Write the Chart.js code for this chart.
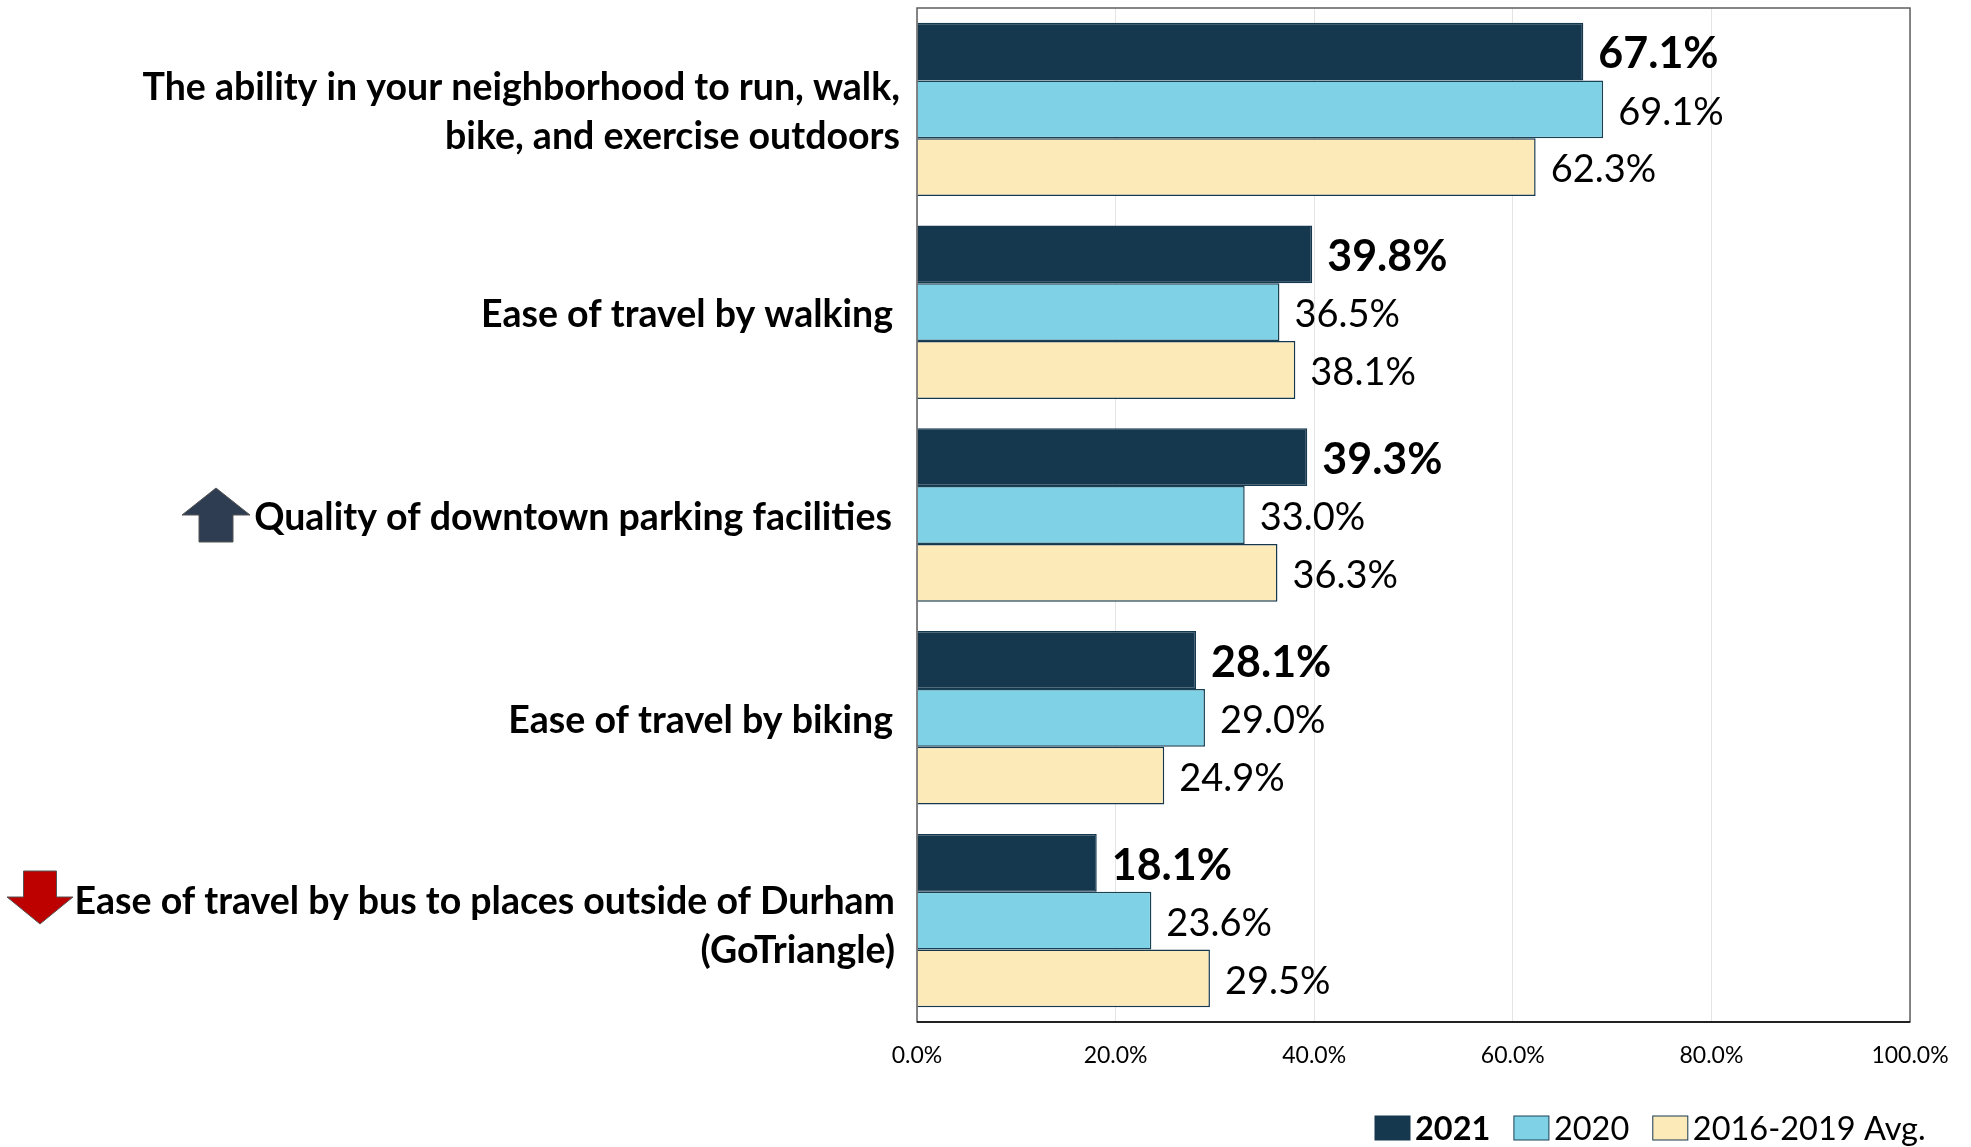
<!DOCTYPE html>
<html>
<head>
<meta charset="utf-8">
<style>
  html, body { margin: 0; padding: 0; background: #fff; }
  #wrap { width: 1971px; height: 1147px; }
</style>
<script src="https://cdn.jsdelivr.net/npm/chart.js@4"></script>
</head>
<body>
<div id="wrap"><canvas id="chart" width="1971" height="1147"></canvas></div>
<script>
const categories = [
  ['The ability in your neighborhood to run, walk,', 'bike, and exercise outdoors'],
  ['Ease of travel by walking'],
  ['Quality of downtown parking facilities'],
  ['Ease of travel by biking'],
  ['Ease of travel by bus to places outside of Durham', '(GoTriangle)']
];
const values2021 = [67.1, 39.8, 39.3, 28.1, 18.1];
const values2020 = [69.1, 36.5, 33.0, 29.0, 23.6];
const valuesAvg = [62.3, 38.1, 36.3, 24.9, 29.5];
const seriesNames = ['2021', '2020', '2016-2019 Avg.'];
const xTicks = [0, 20, 40, 60, 80, 100];

const FONT = 'Lato, "Open Sans", sans-serif';

function drawText(ctx, str, x, y, font, align) {
  ctx.font = font;
  ctx.fillStyle = '#000';
  ctx.textAlign = align;
  ctx.textBaseline = 'middle';
  ctx.fillText(str, x, y);
}

const labelRight = [900, 893, 892, 893, 895];

const extras = {
  id: 'extras',
  afterDatasetsDraw(chart) {
    const ctx = chart.ctx;
    const a = chart.chartArea;
    const yScale = chart.scales.y;

    // frame
    ctx.strokeStyle = '#5f5f5f';
    ctx.lineWidth = 1.5;
    ctx.strokeRect(a.left, a.top, a.right - a.left, a.bottom - a.top);
    ctx.strokeStyle = '#000';
    ctx.beginPath();
    ctx.moveTo(a.left, a.bottom);
    ctx.lineTo(a.right, a.bottom);
    ctx.stroke();

    // category labels
    categories.forEach((lines, i) => {
      const cy = yScale.getPixelForTick(i) + (i === 4 ? 6 : 3);
      lines.forEach((line, j) => {
        const y = cy + (j - (lines.length - 1) / 2) * 48.6;
        drawText(ctx, line, labelRight[i], y, 'bold 37.5px ' + FONT, 'right');
      });
    });

    // value labels
    chart.data.datasets.forEach((ds, d) => {
      const font = (d === 0 ? 'bold 43px ' : '38px ') + FONT;
      chart.getDatasetMeta(d).data.forEach((bar, i) => {
        drawText(ctx, ds.data[i].toFixed(1) + '%', bar.x + 15, bar.y + 3, font, 'left');
      });
    });

    // arrows
    arrow(ctx, 216, 488, 542, 34, 515, '#2f3d52');
    arrow(ctx, 40, 924, 871, 33, 897, '#bd0000');

    // legend
    let lx = 1375;
    const ly = 1128;
    chart.data.datasets.forEach((ds, d) => {
      ctx.fillStyle = ds.backgroundColor;
      ctx.strokeStyle = ds.borderColor;
      ctx.lineWidth = 1;
      ctx.fillRect(lx, ly - 12, 35, 24);
      ctx.strokeRect(lx, ly - 12, 35, 24);
      drawText(ctx, seriesNames[d], lx + 40, ly + 2, (d === 0 ? 'bold ' : '') + '32.5px ' + FONT, 'left');
      lx += 40 + ctx.measureText(seriesNames[d]).width + 23.5;
    });
  }
};

// tip is at y1, foot of the shaft at y2, head meets shaft at yh
function arrow(ctx, cx, y1, y2, w, yh, color) {
  const half = w / 2;
  const head = w;
  ctx.fillStyle = color;
  ctx.strokeStyle = '#555';
  ctx.lineWidth = 1;
  ctx.beginPath();
  ctx.moveTo(cx, y1);
  ctx.lineTo(cx + head, yh);
  ctx.lineTo(cx + half, yh);
  ctx.lineTo(cx + half, y2);
  ctx.lineTo(cx - half, y2);
  ctx.lineTo(cx - half, yh);
  ctx.lineTo(cx - head, yh);
  ctx.closePath();
  ctx.fill();
  ctx.stroke();
}

new Chart(document.getElementById('chart'), {
  type: 'bar',
  data: {
    labels: categories.map(c => c.join(' ')),
    datasets: [
      { label: seriesNames[0], data: values2021, backgroundColor: '#16384f', borderColor: '#16384f', borderWidth: 1.5 },
      { label: seriesNames[1], data: values2020, backgroundColor: '#7fd1e5', borderColor: '#1a4257', borderWidth: 1.5 },
      { label: seriesNames[2], data: valuesAvg, backgroundColor: '#fdeab9', borderColor: '#16384f', borderWidth: 1.5 }
    ]
  },
  options: {
    indexAxis: 'y',
    responsive: false,
    animation: false,
    layout: { padding: { top: 8, right: 61, left: 0, bottom: 0 } },
    plugins: { legend: { display: false }, tooltip: { enabled: false } },
    datasets: { bar: { categoryPercentage: 0.855, barPercentage: 1 } },
    scales: {
      x: {
        min: 0,
        max: 100,
        afterBuildTicks(axis) { axis.ticks = xTicks.map(v => ({ value: v })); },
        grid: { color: '#e4e4e4', lineWidth: 1, drawTicks: false },
        border: { display: false },
        ticks: {
          color: '#000',
          padding: 20,
          maxRotation: 0,
          font: { family: 'Lato', size: 23 },
          callback: v => v.toFixed(1) + '%'
        },
        afterFit(axis) { axis.height = 125; }
      },
      y: {
        grid: { display: false },
        border: { display: false },
        ticks: { display: false },
        afterFit(axis) { axis.width = 917; }
      }
    }
  },
  plugins: [extras]
});
</script>
</body>
</html>
